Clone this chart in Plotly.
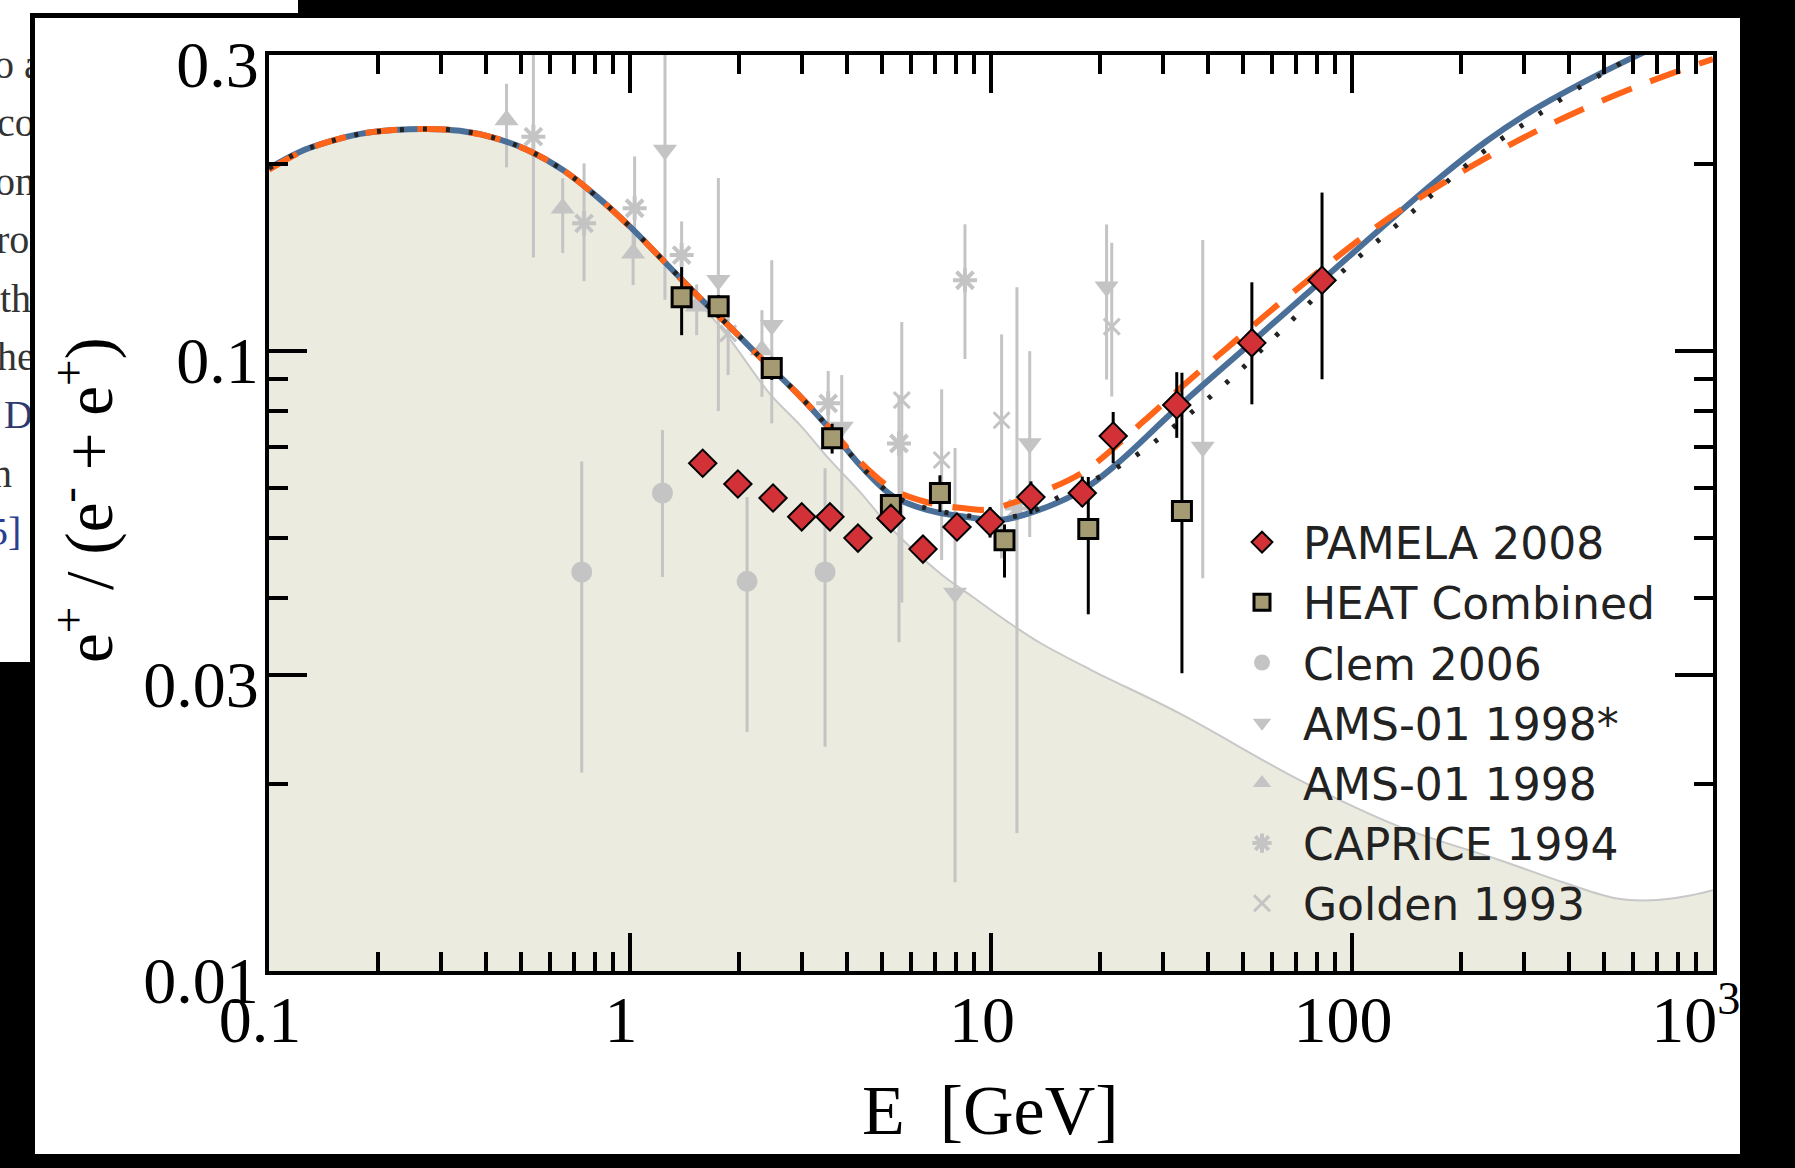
import plotly.graph_objects as go

# ---------------- data ----------------
# model curves: energy [GeV] and positron fraction
blue_E = [0.1, 0.122, 0.145, 0.179, 0.221, 0.274, 0.338, 0.418, 0.518, 0.652, 0.81, 1.0, 1.234, 1.533,
          1.892, 2.336, 2.90, 3.6, 4.34, 5.35, 6.65, 8.3, 10.6, 13.1, 17.9, 22.3, 32.7, 52.8, 82.6,
          172, 234, 311, 449, 596, 700]
blue_v = [0.197, 0.2095, 0.217, 0.2238, 0.227, 0.228, 0.2264, 0.2208, 0.211, 0.1957, 0.1773, 0.1586, 0.140, 0.123,
          0.1093, 0.0966, 0.0855, 0.0745, 0.0654, 0.0583, 0.0554, 0.0541, 0.0534, 0.0550, 0.0596, 0.0657, 0.0808,
          0.1033, 0.130, 0.1886, 0.2172, 0.2427, 0.2733, 0.2967, 0.310]

orange_E = [0.1, 0.122, 0.145, 0.179, 0.221, 0.274, 0.338, 0.418, 0.518, 0.652, 0.81, 1.0, 1.234, 1.533,
            1.892, 2.336, 2.90, 3.6, 4.34, 5.35, 6.65, 8.3, 9.8, 14.7, 18.4, 26.4, 34.9, 46.8, 63.0,
            115.7, 160, 218, 313, 439, 626, 878, 1000]
orange_v = [0.196, 0.2090, 0.217, 0.2238, 0.227, 0.228, 0.2264, 0.2208, 0.211, 0.1957, 0.1773, 0.1586, 0.140, 0.123,
            0.1093, 0.0966, 0.0855, 0.0748, 0.0662, 0.0598, 0.0570, 0.0558, 0.0555, 0.0601, 0.0643, 0.0769, 0.089,
            0.103, 0.1193, 0.1578, 0.1791, 0.1997, 0.2238, 0.2459, 0.268, 0.288, 0.2955]

dot_E = [0.1, 0.122, 0.145, 0.179, 0.221, 0.274, 0.338, 0.418, 0.518, 0.652, 0.81, 1.0, 1.234, 1.533,
         1.892, 2.336, 2.90, 3.6, 4.34, 5.35, 6.65, 8.3, 10.6, 13.1, 15.5, 22.0, 26.1, 35.2, 47.4, 62.5,
         95, 147, 228, 316, 437, 517, 620]
dot_v = [0.197, 0.2095, 0.217, 0.2238, 0.227, 0.228, 0.2264, 0.2208, 0.211, 0.1957, 0.1773, 0.1586, 0.140, 0.123,
         0.1093, 0.0966, 0.0855, 0.0745, 0.0654, 0.0585, 0.0557, 0.0544, 0.0537, 0.0552, 0.0582, 0.0645, 0.0688,
         0.0788, 0.0914, 0.1067, 0.135, 0.1676, 0.2082, 0.237, 0.2685, 0.284, 0.302]

bg_E = [0.1, 0.122, 0.145, 0.179, 0.221, 0.274, 0.338, 0.418, 0.518, 0.652, 0.81, 1.0, 1.234, 1.533,
        1.89, 2.43, 2.96, 3.58, 4.34, 5.25, 7.22, 8.91, 11.1, 13.7, 18.9, 33.4, 71.8, 135.8, 257, 393,
        541, 670, 826, 1000]
bg_v = [0.197, 0.2095, 0.217, 0.2238, 0.227, 0.228, 0.2264, 0.2208, 0.211, 0.1957, 0.1773, 0.1586, 0.140, 0.121,
        0.1045, 0.0855, 0.0759, 0.0667, 0.0592, 0.0520, 0.0438, 0.0401, 0.0366, 0.0338, 0.0306, 0.0260, 0.0203,
        0.01708, 0.01509, 0.01384, 0.01309, 0.01300, 0.01317, 0.0135]

# measurements
pamela_E = [1.59, 1.99, 2.49, 2.99, 3.58, 4.28, 5.28, 6.48, 8.05, 9.94, 12.9, 17.9, 21.8, 32.7, 52.8, 82.6]
pamela_v = [0.0659, 0.0610, 0.0579, 0.0540, 0.0540, 0.0499, 0.0537, 0.0479, 0.0520, 0.0530, 0.0581, 0.0590,
            0.0729, 0.0818, 0.103, 0.130]
pamela_up = [0.0012, 0.0012, 0.0012, 0.0012, 0.0012, 0.0012, 0.0014, 0.0015, 0.002, 0.003, 0.0035, 0.0037,
             0.0068, 0.0106, 0.026, 0.050]
pamela_dn = [0.0012, 0.0012, 0.0012, 0.0012, 0.0012, 0.0012, 0.0014, 0.0015, 0.002, 0.003, 0.0035, 0.0030,
             0.0070, 0.0094, 0.021, 0.040]

heat_E = [1.39, 1.76, 2.47, 3.63, 5.28, 7.22, 10.9, 18.6, 33.8]
heat_v = [0.122, 0.118, 0.0938, 0.0723, 0.0564, 0.0590, 0.0495, 0.0516, 0.0552]
heat_up = [0.0145, 0.005, 0.004, 0.004, 0.002, 0.004, 0.003, 0.011, 0.037]
heat_dn = [0.016, 0.005, 0.004, 0.004, 0.002, 0.004, 0.0064, 0.014, 0.025]

clem_E = [0.735, 1.23, 2.11, 3.47]
clem_v = [0.0440, 0.0590, 0.0425, 0.0440]
clem_up = [0.0223, 0.0155, 0.0156, 0.0207]
clem_dn = [0.0231, 0.0158, 0.0182, 0.0210]

amsx_E = [1.25, 1.757, 2.47, 3.86, 7.95, 12.8, 20.9, 38.6]
amsx_v = [0.2109, 0.130, 0.110, 0.0754, 0.0407, 0.0709, 0.1269, 0.070]
amsx_up = [0.12, 0.060, 0.030, 0.016, 0.029, 0.029, 0.033, 0.081]
amsx_dn = [0.090, 0.050, 0.0336, 0.021, 0.0268, 0.0208, 0.037, 0.027]

ams_E = [0.455, 0.651, 1.02, 1.53, 2.32]
ams_v = [0.2356, 0.1698, 0.1437, 0.118, 0.1003]
ams_up = [0.034, 0.020, 0.013, 0.010, 0.016]
ams_dn = [0.038, 0.026, 0.016, 0.012, 0.016]

cap_E = [0.54, 0.746, 1.03, 1.39, 3.54, 5.56, 8.47, 11.8]
cap_v = [0.2215, 0.1606, 0.1698, 0.1427, 0.0823, 0.0709, 0.130, 0.0557]
cap_up = [0.08, 0.040, 0.036, 0.019, 0.0105, 0.014, 0.030, 0.071]
cap_dn = [0.080, 0.031, 0.025, 0.018, 0.012, 0.037, 0.033, 0.039]

gold_E = [1.87, 5.66, 7.30, 10.7, 21.6]
gold_v = [0.1067, 0.0833, 0.0667, 0.0773, 0.1094]
gold_up = [0.0155, 0.028, 0.020, 0.029, 0.040]
gold_dn = [0.0153, 0.044, 0.0207, 0.031, 0.025]

# axis ticks
x_ticks = [0.1, 1, 10, 100, 1000]
x_ticktext = ["0.1", "1", "10", "100", "10<sup>3</sup>\u00a0"]
x_minor = [m * d for d in (0.1, 1, 10, 100) for m in range(2, 10)]
y_ticks = [0.01, 0.03, 0.1, 0.3]
y_ticktext = ["0.01", "0.03", "0.1", "0.3"]
y_minor = [0.02, 0.04, 0.05, 0.06, 0.07, 0.08, 0.09, 0.2]

legend_names = ["PAMELA 2008", "HEAT Combined", "Clem 2006", "AMS-01 1998*", "AMS-01 1998",
                "CAPRICE 1994", "Golden 1993"]

# text fragments of the page behind the figure
frag_text = ["o a", "co", "on", "ro", "th", "he", "D", "n", "5]"]
frag_color = ["#333333", "#333333", "#333333", "#333333", "#333333", "#333333", "#2d3a6e", "#333333", "#2a3f8f"]

# ---------------- layout geometry (pixels) ----------------
W, H = 1795, 1168
PL, PR, PT, PB = 269, 1713, 55, 971


def fx(px):
    return px / W


def fy(py):
    return 1 - py / H


# fragment placement (pixels): left start of each fragment, first baseline, line spacing
frag_start_px = [-6, -3, -5, -4, 0, -3, 4, -8, -12]
frag_first_base, frag_step = 80, 58.4
frag_y_px = [frag_first_base + i * frag_step - 12 for i in range(len(frag_text))]

GRAY = "#c4c4c4"
SERIF = "Liberation Serif"
LEGFONT = "DejaVu Sans"

fig = go.Figure()

# background model: filled area
fig.add_trace(go.Scatter(x=bg_E, y=bg_v, mode="lines", line=dict(color="#c8c8c8", width=2, shape="spline"),
                         fill="tozeroy", fillcolor="#ebebdf", showlegend=False, hoverinfo="skip"))


def err(up, dn, color, th=3):
    return dict(type="data", symmetric=False, array=up, arrayminus=dn, thickness=th, width=0, color=color)


gray_sets = [
    (clem_E, clem_v, clem_up, clem_dn, legend_names[2], dict(symbol="circle", size=21, color=GRAY), 3),
    (amsx_E, amsx_v, amsx_up, amsx_dn, legend_names[3], dict(symbol="triangle-down", size=21, color=GRAY), 4),
    (ams_E, ams_v, ams_up, ams_dn, legend_names[4], dict(symbol="triangle-up", size=21, color=GRAY), 5),
    (cap_E, cap_v, cap_up, cap_dn, legend_names[5],
     dict(symbol="asterisk-open", size=20, color=GRAY, line=dict(color=GRAY, width=4)), 6),
    (gold_E, gold_v, gold_up, gold_dn, legend_names[6],
     dict(symbol="x-thin-open", size=16, color=GRAY, line=dict(color=GRAY, width=3)), 7),
]
for e, v, up, dn, name, mk, rank in gray_sets:
    fig.add_trace(go.Scatter(x=e, y=v, mode="markers", name=name, marker=mk, error_y=err(up, dn, GRAY),
                             legendrank=rank))

# model curves
fig.add_trace(go.Scatter(x=blue_E, y=blue_v, mode="lines", line=dict(color="#4a6f98", width=6, shape="spline"),
                         showlegend=False))
fig.add_trace(go.Scatter(x=orange_E, y=orange_v, mode="lines",
                         line=dict(color="#ff6419", width=6, shape="spline", dash="32px,20px"),
                         showlegend=False))
fig.add_trace(go.Scatter(x=dot_E, y=dot_v, mode="lines",
                         line=dict(color="#222222", width=5, shape="spline", dash="4px,19px"),
                         showlegend=False))

# HEAT and PAMELA
fig.add_trace(go.Scatter(x=heat_E, y=heat_v, mode="markers", name=legend_names[1],
                         marker=dict(symbol="square", size=19, color="#a59b73", line=dict(color="black", width=3)),
                         error_y=err(heat_up, heat_dn, "black"), legendrank=2))
fig.add_trace(go.Scatter(x=pamela_E, y=pamela_v, mode="markers", name=legend_names[0],
                         marker=dict(symbol="diamond", size=21, color="#d23237", line=dict(color="black", width=2)),
                         error_y=err(pamela_up, pamela_dn, "black"), legendrank=1))

# clipped text fragments of the underlying page (own hidden subplot so they are clipped at its edge)
fig.add_trace(go.Scatter(x=frag_start_px, y=frag_y_px, mode="text", text=frag_text, textposition="middle right",
                         textfont=dict(family=SERIF, size=40, color=frag_color), cliponaxis=True,
                         xaxis="x2", yaxis="y2", showlegend=False, hoverinfo="skip"))

axis_common = dict(type="log", ticks="inside", ticklen=38, tickwidth=4, tickcolor="black",
                   showline=True, linewidth=4, linecolor="black", mirror="allticks", automargin=False,
                   showgrid=False, zeroline=False, tickfont=dict(family=SERIF, size=66, color="black"))

fig.update_layout(
    xaxis=dict(domain=[fx(PL), fx(PR)], anchor="y", range=[-1, 3], tickvals=x_ticks, ticktext=x_ticktext,
               ticklabelshift=-9, ticklabelstandoff=-12,
               minor=dict(tickvals=x_minor, ticklen=19, tickwidth=4, tickcolor="black", ticks="inside",
                          showgrid=False),
               **axis_common),
    yaxis=dict(domain=[fy(PB), fy(PT)], anchor="x", range=[-2, -0.5228787], tickvals=y_ticks,
               ticktext=y_ticktext, ticklabelshift=9, ticklabelstandoff=-7,
               minor=dict(tickvals=y_minor, ticklen=19, tickwidth=4, tickcolor="black", ticks="inside",
                          showgrid=False),
               **axis_common),
    xaxis2=dict(domain=[0, fx(30)], anchor="y2", range=[0, 30], visible=False, fixedrange=True,
                automargin=False),
    yaxis2=dict(domain=[fy(662), fy(13)], anchor="x2", range=[662, 13], visible=False, fixedrange=True,
                automargin=False),
)

shapes = []
for (x0, y0, x1, y1) in [(0, 0, 298, 13), (0, 13, 30, 662), (35, 18, 1740, 1154)]:
    shapes.append(dict(type="rect", xref="paper", yref="paper", x0=fx(x0), x1=fx(x1), y0=fy(y1), y1=fy(y0),
                       fillcolor="white", line=dict(width=0), layer="below"))

annotations = [
    dict(text="e<sup>+</sup> / (e<sup>-</sup> + e<sup>+</sup>)", x=fx(84), y=fy(500), xref="paper",
         yref="paper", textangle=-90, showarrow=False, font=dict(family=SERIF, size=67, color="black"),
         xanchor="center", yanchor="middle"),
    dict(text="E\u00a0\u00a0[GeV]", x=fx(990), y=fy(1110), xref="paper", yref="paper", showarrow=False,
         font=dict(family=SERIF, size=70, color="black"), xanchor="center", yanchor="middle"),
]

fig.update_layout(
    width=W, height=H, margin=dict(l=0, r=0, t=0, b=0, pad=0, autoexpand=False),
    paper_bgcolor="black", plot_bgcolor="white",
    showlegend=True,
    legend=dict(x=fx(1221), y=fy(507), xanchor="left", yanchor="top", bgcolor="rgba(0,0,0,0)",
                font=dict(family=LEGFONT, size=44, color="#222222"), tracegroupgap=0, itemsizing="trace",
                itemwidth=72),
    shapes=shapes, annotations=annotations,
)

fig.write_html("out.html", config={"displayModeBar": False},
               post_script="document.body.style.margin='0';document.body.style.overflow='hidden';"
                           "document.body.style.background='black';")
